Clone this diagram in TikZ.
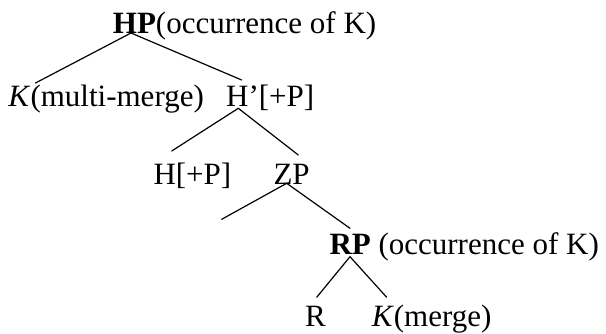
\documentclass[tikz,border=0pt]{standalone}
\usepackage{fontspec}
\setmainfont{Liberation Serif}
\begin{document}
\begin{tikzpicture}[x=1pt,y=-1pt,
  lbl/.style={inner sep=0pt,anchor=base west,font=\fontsize{31}{37}\selectfont},
  branch/.style={line width=1.2pt,line cap=round}]
\useasboundingbox (0,0) rectangle (606,334);
% nodes
\node[lbl] (hp) at (112.7,33.3) {\textbf{HP}(occurrence of K)};
\node[lbl] (k1) at (8.3,106.7) {\textit{K}(multi-merge)};
\node[lbl] (hbar) at (226,106.7) {H’[+P]};
\node[lbl] (h) at (153.3,185) {H[+P]};
\node[lbl] (zp) at (273.3,185) {ZP};
\node[lbl] (rp) at (329.3,255) {\textbf{RP} (occurrence of K)};
\node[lbl] (r) at (305,326.7) {R};
\node[lbl] (k2) at (371.7,326.7) {\textit{K}(merge)};
% attachment points
\coordinate (hpv) at (131,33);
\coordinate (k1t) at (35.5,83);
\coordinate (hbart) at (241.7,80);
\coordinate (hbarv) at (238.3,108.3);
\coordinate (ht) at (171.7,151);
\coordinate (zpt) at (298.3,155);
\coordinate (zpv) at (286.7,183.3);
\coordinate (dang) at (221.7,219.3);
\coordinate (rpt) at (350,228.3);
\coordinate (rpv) at (350,256.7);
\coordinate (rt) at (316.7,297.3);
\coordinate (k2t) at (386.7,297.3);
% connectors
\draw[branch] (hpv) -- (k1t);
\draw[branch] (hpv) -- (hbart);
\draw[branch] (hbarv) -- (ht);
\draw[branch] (hbarv) -- (zpt);
\draw[branch] (zpv) -- (dang);
\draw[branch] (zpv) -- (rpt);
\draw[branch] (rpv) -- (rt);
\draw[branch] (rpv) -- (k2t);
\end{tikzpicture}
\end{document}
